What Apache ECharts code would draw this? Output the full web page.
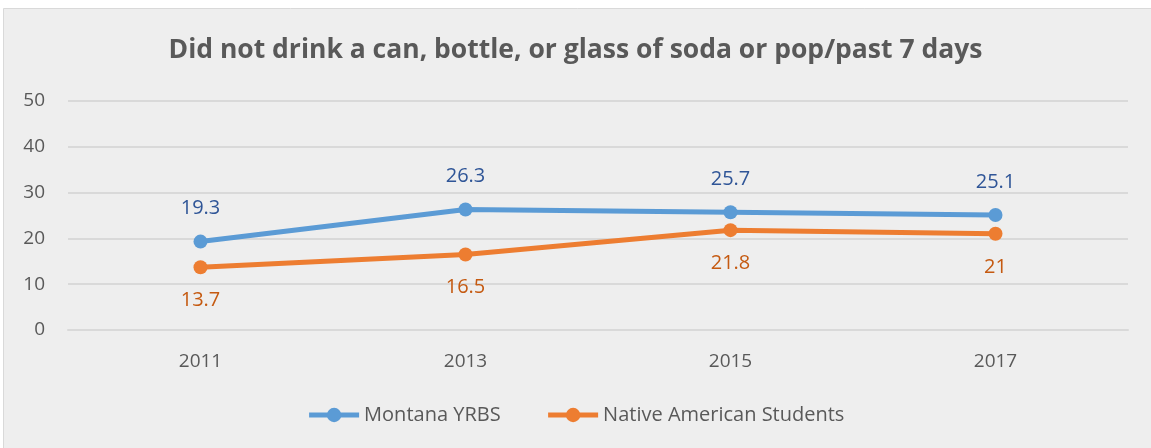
<!DOCTYPE html>
<html>
<head>
<meta charset="utf-8">
<script src="https://cdn.jsdelivr.net/npm/echarts@6/dist/echarts.min.js"></script>
<style>
  html, body { margin: 0; padding: 0; background: #fff; }
  #chart { width: 1151px; height: 448px; }
</style>
</head>
<body>
<div id="chart"></div>
<script>
  const years = ['2011', '2013', '2015', '2017'];
  const montana = [19.3, 26.3, 25.7, 25.1];
  const nativeAm = [13.7, 16.5, 21.8, 21];
  const seriesNames = ['Montana YRBS', 'Native American Students'];

  const font = '"Open Sans", "Liberation Sans", sans-serif';
  const myChart = echarts.init(document.getElementById('chart'));

  const option = {
    backgroundColor: '#fff',
    textStyle: { fontFamily: font },
    graphic: [{
      type: 'rect',
      z: -10,
      shape: { x: 3.5, y: 8.5, width: 1150, height: 445 },
      style: { fill: '#eeeeee', stroke: '#d9d9d9', lineWidth: 1 }
    }],
    title: {
      text: 'Did not drink a can, bottle, or glass of soda or pop/past 7 days',
      left: 'center',
      top: 32,
      textStyle: { fontSize: 26.5, fontWeight: 'bold', color: '#595959', fontFamily: font }
    },
    legend: {
      bottom: 18,
      left: 'center',
      itemWidth: 50,
      itemHeight: 18,
      itemGap: 45,
      data: seriesNames,
      lineStyle: { width: 5 },
      textStyle: { fontSize: 20, color: '#595959', fontFamily: font }
    },
    grid: { left: 68, right: 23, top: 101, bottom: 118, containLabel: false },
    xAxis: {
      type: 'category',
      data: years,
      boundaryGap: true,
      axisLine: { show: true, lineStyle: { color: '#d9d9d9', width: 2 } },
      axisTick: { show: false },
      axisLabel: { fontSize: 19, color: '#595959', margin: 22 }
    },
    yAxis: {
      type: 'value',
      min: 0,
      max: 50,
      interval: 10,
      axisLine: { show: false },
      axisTick: { show: false },
      axisLabel: { fontSize: 19, color: '#595959', margin: 23 },
      splitLine: { lineStyle: { color: '#d9d9d9', width: 2 } }
    },
    series: [
      {
        name: seriesNames[0],
        type: 'line',
        data: montana,
        symbol: 'circle',
        symbolSize: 14,
        color: '#5b9bd5',
        lineStyle: { width: 5, color: '#5b9bd5' },
        label: { show: true, position: 'top', distance: 16, fontSize: 20, color: '#2f5597' }
      },
      {
        name: seriesNames[1],
        type: 'line',
        data: nativeAm,
        symbol: 'circle',
        symbolSize: 14,
        color: '#ed7d31',
        lineStyle: { width: 5, color: '#ed7d31' },
        label: { show: true, position: 'bottom', distance: 16, fontSize: 20, color: '#c55a11' }
      }
    ]
  };

  myChart.setOption(option);
</script>
</body>
</html>
